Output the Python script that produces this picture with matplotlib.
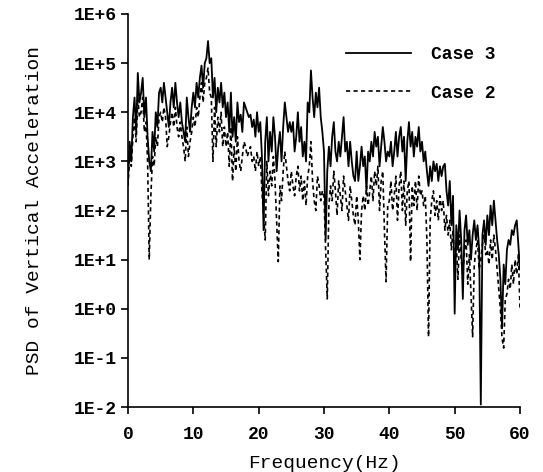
import numpy as np
import matplotlib
matplotlib.use('Agg')
import matplotlib.pyplot as plt
from matplotlib.ticker import FixedLocator, FixedFormatter

# PSD, stored as log10 values, 0.25 Hz spacing from 0 to 60 Hz
freq = np.arange(241) * 0.25

case3_log = [
    2.6, 3.4, 3.0, 3.9, 4.3, 3.6, 4.8, 4.2, 4.4, 4.7, 3.9, 4.3, 3.5, 3.0, 2.8, 3.6, 3.2, 4.0, 3.7, 4.4,
    4.5, 4.2, 4.6, 4.3, 4.0, 3.7, 4.2, 4.5, 4.1, 4.6, 4.2, 3.9, 4.2, 3.8, 3.6, 3.4, 4.3, 3.9, 3.6, 4.1,
    4.4, 4.1, 4.6, 4.3, 4.7, 4.95, 4.5, 5.0, 5.1, 5.45, 5.0, 5.1, 4.3, 4.7, 4.0, 4.5, 4.2, 4.6, 4.1, 4.4,
    3.9, 4.2, 3.6, 4.4, 3.5, 3.9, 3.4, 4.2, 3.8, 3.95, 3.6, 4.2, 4.1, 4.0, 3.9, 3.95, 3.7, 3.85, 3.5, 4.0,
    3.6, 3.8, 3.1, 1.6, 3.4, 3.9, 3.0, 3.6, 3.2, 3.9, 3.5, 2.8, 3.3, 3.6, 3.0, 3.7, 4.2, 3.9, 3.6, 3.8,
    3.6, 3.8, 3.2, 3.5, 4.0, 3.4, 3.7, 3.1, 3.4, 3.0, 4.2, 4.0, 4.85, 4.3, 3.9, 4.4, 4.1, 4.5, 3.9, 3.6,
    3.2, 1.4, 2.8, 3.3, 2.9, 3.5, 3.8, 3.2, 3.0, 3.4, 3.1, 3.5, 3.9, 3.2, 3.4, 2.9, 3.4, 3.0, 2.7, 2.6,
    3.2, 2.6, 2.9, 3.3, 2.9, 3.1, 2.4, 3.2, 3.0, 3.4, 3.1, 3.6, 3.3, 3.5, 2.9, 3.3, 3.7, 3.4, 3.0, 3.2,
    3.1, 3.4, 2.9, 3.2, 3.6, 3.1, 3.5, 3.7, 3.2, 3.5, 2.6, 3.4, 3.8, 3.3, 3.6, 3.1, 3.5, 3.3, 3.7, 3.2,
    3.4, 3.0, 3.2, 2.8, 2.5, 2.9, 2.6, 3.0, 2.8, 2.95, 2.6, 2.9, 2.7, 2.9, 2.95, 2.4, 2.1, 2.6, 1.7, 2.3,
    -0.1, 1.7, 1.2, 2.0, 1.4, 0.2, 1.6, 1.9, 1.3, 1.6, 1.0, 1.5, 1.8, 1.4, 1.7, 1.2, -1.95, 1.5, 1.8, 1.3,
    1.9, 1.5, 2.1, 1.7, 2.2, 1.8, 1.4, 1.1, 0.6, -0.4, 0.9, 0.5, 1.2, 1.4, 1.3, 1.6, 1.5, 1.7, 1.8, 1.3, 0.8,
]

case2_log = [
    2.5, 3.1, 2.9, 3.5, 3.9, 3.4, 4.3, 3.9, 4.0, 4.3, 3.6, 3.8, 3.0, 1.0, 2.3, 3.1, 2.9, 3.5, 3.3, 3.9,
    4.0, 3.8, 4.1, 3.9, 3.3, 3.5, 3.8, 4.0, 3.7, 4.1, 3.7, 3.5, 3.8, 3.5, 3.3, 3.0, 3.7, 3.1, 3.4, 3.6,
    3.9, 3.7, 4.1, 3.9, 4.3, 4.6, 4.2, 4.6, 4.7, 4.9, 4.4, 4.3, 3.0, 4.1, 3.3, 3.9, 3.6, 4.0, 3.3, 3.7,
    3.3, 3.6, 2.9, 3.7, 2.6, 3.3, 2.8, 3.5, 3.0, 2.8, 3.1, 3.4, 3.3, 3.1, 3.2, 3.3, 3.0, 3.1, 2.8, 3.2,
    2.9, 3.1, 2.4, 1.9, 1.4, 3.0, 2.3, 2.8, 2.5, 3.1, 2.6, 1.8, 0.96, 2.5, 2.2, 2.8, 3.2, 2.9, 2.6, 2.4,
    2.8, 2.5, 2.3, 2.7, 2.9, 2.4, 2.7, 2.2, 2.6, 2.1, 2.7, 2.9, 3.4, 2.6, 2.2, 2.0, 2.7, 2.5, 2.2, 2.4,
    2.3, 1.2, 0.2, 2.1, 2.5, 2.2, 2.8, 2.4, 1.9, 2.6, 2.3, 2.0, 2.7, 2.4, 2.1, 1.8, 2.5, 2.2, 1.9, 1.7,
    2.3, 1.8, 1.0, 2.0, 2.3, 2.0, 2.5, 2.1, 2.4, 2.7, 2.2, 2.8, 2.5, 2.9, 2.0, 2.6, 2.8, 1.6, 0.55, 2.1,
    2.2, 2.6, 2.0, 2.3, 2.7, 1.8, 2.5, 2.8, 2.0, 2.6, 1.7, 2.4, 2.6, 0.96, 2.5, 2.1, 2.6, 2.0, 2.7, 2.3,
    2.4, 2.1, 2.3, 1.4, -0.57, 1.8, 2.2, 2.4, 1.9, 2.2, 1.8, 2.3, 2.0, 2.2, 1.6, 1.9, 1.5, 1.8, 1.2, 1.6,
    0.9, 1.3, 0.6, 1.5, 1.0, 0.7, 1.2, 1.4, 0.5, 1.1, 0.3, -0.57, 0.9, 1.2, 1.4, 0.8, 1.0, 1.3, 1.5, 1.1,
    1.2, 0.9, 1.4, 1.0, 1.5, 1.2, 0.8, 0.4, 0.0, -0.6, -0.8, 0.2, 0.3, 0.6, 0.4, 0.9, 0.5, 1.0, 0.7, 1.1, 0.0,
]

x_ticks = [0, 10, 20, 30, 40, 50, 60]
y_ticks = [1e-2, 1e-1, 1e0, 1e1, 1e2, 1e3, 1e4, 1e5, 1e6]
y_tick_labels = ['1E-2', '1E-1', '1E+0', '1E+1', '1E+2', '1E+3', '1E+4', '1E+5', '1E+6']

plt.rcParams['font.family'] = ['Liberation Mono', 'DejaVu Sans Mono']
plt.rcParams['font.weight'] = 'bold'

fig = plt.figure(figsize=(5.43, 4.72), dpi=100)
ax = fig.add_axes([128 / 543, 65 / 472, 392 / 543, 393 / 472])

case3 = 10 ** np.array(case3_log)
case2 = 10 ** np.array(case2_log)

ax.plot(freq, case2, color='black', lw=1.2, linestyle=(0, (2.5, 2.0)), label='Case 2')
ax.plot(freq, case3, color='black', lw=1.3, label='Case 3')

ax.set_yscale('log')
ax.set_xlim(0, 60)
ax.set_ylim(1e-2, 1e6)
ax.yaxis.set_major_locator(FixedLocator(y_ticks))
ax.yaxis.set_major_formatter(FixedFormatter(y_tick_labels))
ax.yaxis.set_minor_locator(FixedLocator([]))
ax.set_xticks(x_ticks)

for side in ['top', 'right']:
    ax.spines[side].set_visible(False)
for side in ['left', 'bottom']:
    ax.spines[side].set_linewidth(1.2)

ax.tick_params(axis='both', direction='out', length=5, width=1.2, labelsize=13, pad=3)
ax.tick_params(axis='x', pad=9)

ax.set_xlabel('Frequency(Hz)', fontsize=14, labelpad=8)
ax.set_ylabel('PSD of Vertical Acceleration', fontsize=14, labelpad=22)

handles, labels = ax.get_legend_handles_labels()
ax.legend(handles[::-1], labels[::-1], loc='upper left', frameon=False,
          bbox_to_anchor=(346 / 543, 1 - 46 / 472), bbox_transform=fig.transFigure,
          fontsize=13, handlelength=3.6, handletextpad=1.1, labelspacing=1.2,
          borderpad=0, borderaxespad=0)

fig.savefig('out.png', dpi=100)
